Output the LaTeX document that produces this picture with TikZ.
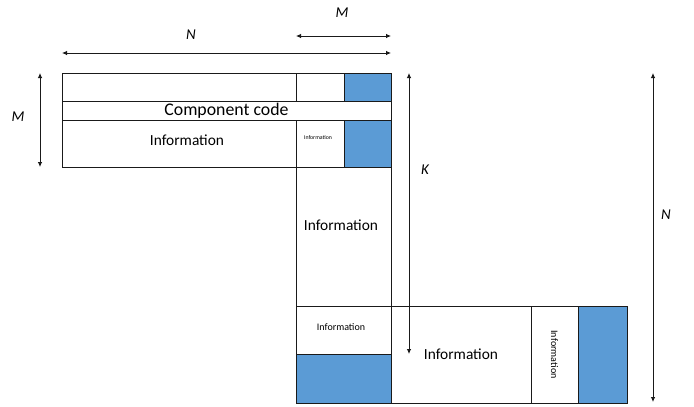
\documentclass[tikz,border=0pt]{standalone}
\usepackage{fontspec}
\setmainfont{Carlito}
\usepackage{tikz}
\usetikzlibrary{arrows.meta,positioning}
\definecolor{cellblue}{HTML}{5B9BD5}
\definecolor{edge}{HTML}{1A1A1A}
\tikzset{
  cell/.style={draw=edge,line width=0.9pt,inner sep=0pt,outer sep=0pt,anchor=north west,align=center},
  parity/.style={cell,fill=cellblue},
  dim/.style={{Latex[length=5pt,width=4.5pt]}-{Latex[length=5pt,width=4.5pt]},line width=0.8pt,color=edge},
  dimlabel/.style={font=\fontsize{15}{17}\selectfont\itshape}
}
\begin{document}
\begin{tikzpicture}[x=1pt,y=-1pt]
  \useasboundingbox (0,0) rectangle (694,407);
  % top block: rows of the component code
  \node[cell,minimum width=234pt,minimum height=28pt] (r1) at (62,73) {};
  \node[cell,minimum width=48pt,minimum height=28pt] (r1m) at (296,73) {};
  \node[parity,minimum width=47pt,minimum height=28pt] (r1p) at (344,73) {};
  \node[cell,minimum width=329pt,minimum height=19pt,font=\fontsize{17.8}{19}\selectfont] (code) at (62,101) {Component code};
  \node[cell,minimum width=234pt,minimum height=47pt] (info1) at (62,120) {};
  \node[font=\fontsize{15.4}{17}\selectfont] (t1) at (187,140) {Information};
  \node[cell,minimum width=48pt,minimum height=47pt] (info2) at (296,120) {};
  \node[font=\fontsize{5.8}{7}\selectfont] (t2) at (318,138) {Information};
  \node[parity,minimum width=47pt,minimum height=47pt] (r3p) at (344,120) {};
  % middle column
  \node[cell,minimum width=95pt,minimum height=139pt] (col) at (296,167) {};
  \node[font=\fontsize{15.4}{17}\selectfont] (t3) at (341,225) {Information};
  \node[cell,minimum width=95pt,minimum height=48pt] (info3) at (296,306) {};
  \node[font=\fontsize{10}{12}\selectfont] (t4) at (341,327) {Information};
  \node[parity,minimum width=95pt,minimum height=49pt] (colp) at (296,354) {};
  % bottom block
  \node[cell,minimum width=140pt,minimum height=97pt,font=\fontsize{15.4}{17}\selectfont] (info4) at (391,306) {Information};
  \node[cell,minimum width=47pt,minimum height=97pt,font=\fontsize{10}{12}\selectfont] (info5) at (531,306) {\rotatebox{-90}{Information}};
  \node[parity,minimum width=49pt,minimum height=97pt] (rowp) at (578,306) {};
  % dimensions
  \coordinate (nL) at (62,53); \coordinate (nR) at (391,53);
  \coordinate (mL) at (296,36); \coordinate (mR) at (391,36);
  \coordinate (mT) at (40,73); \coordinate (mB) at (40,167);
  \coordinate (kT) at (409,73); \coordinate (kB) at (409,354);
  \coordinate (nT) at (653,73); \coordinate (nB) at (653,402);
  \draw[dim] (nL) -- (nR);
  \draw[dim] (mL) -- (mR);
  \draw[dim] (mT) -- (mB);
  \draw[dim] (kT) -- (kB);
  \draw[dim] (nT) -- (nB);
  \node[dimlabel] (lN) at (191,35) {N};
  \node[dimlabel] (lM) at (342,13) {M};
  \node[dimlabel] (lMl) at (18,117) {M};
  \node[dimlabel] (lK) at (425,170) {K};
  \node[dimlabel] (lNr) at (666,215) {N};
\end{tikzpicture}
\end{document}
